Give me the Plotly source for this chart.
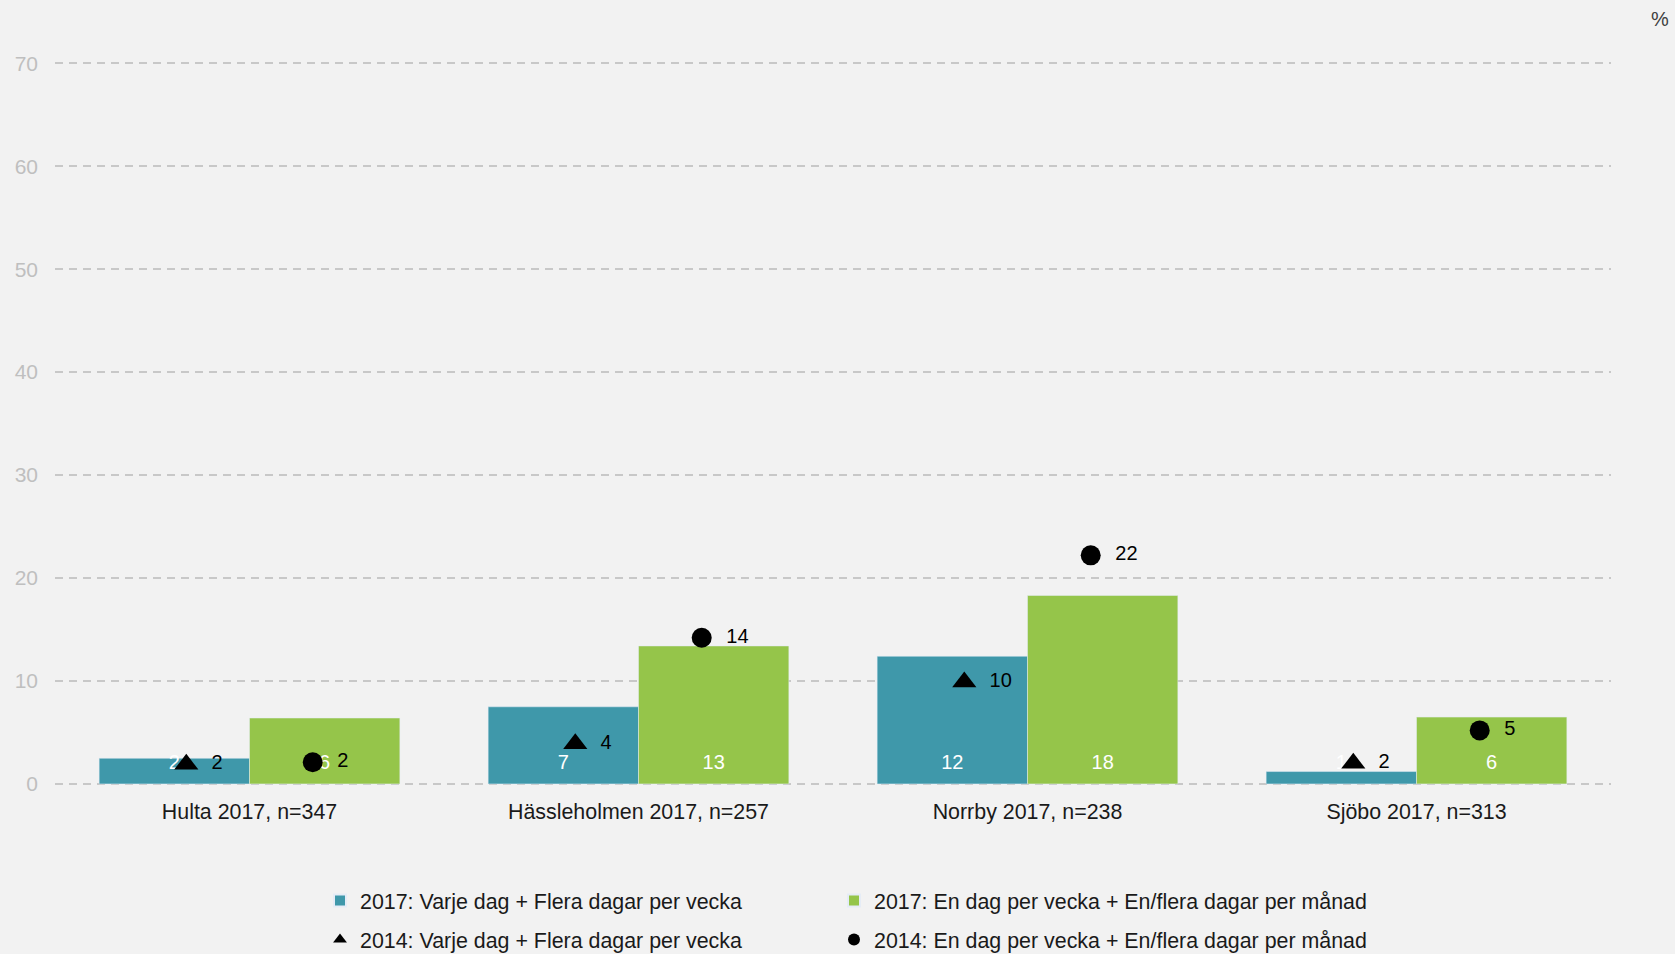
import plotly.graph_objects as go

categories = ["Hulta 2017, n=347", "Hässleholmen 2017, n=257", "Norrby 2017, n=238", "Sjöbo 2017, n=313"]
often_2017 = [2.49, 7.49, 12.4, 1.2]
seldom_2017 = [6.4, 13.4, 18.3, 6.49]
often_2014 = [1.9, 3.9, 9.9, 2.0]
seldom_2014 = [2.1, 14.2, 22.2, 5.2]

name_often_2017 = "2017: Varje dag + Flera dagar per vecka"
name_seldom_2017 = "2017: En dag per vecka + En/flera dagar per månad"
name_often_2014 = "2014: Varje dag + Flera dagar per vecka"
name_seldom_2014 = "2014: En dag per vecka + En/flera dagar per månad"

y_ticks = [0, 10, 20, 30, 40, 50, 60, 70]

TEAL = "#3F98AA"
GREEN = "#95C54A"
FONT = "Liberation Sans, Arial, sans-serif"

# bar value label: large number, followed by a tiny invisible line that lifts it off the bar base
BAR_LABEL = "<span style='font-size:20px'>%{y:.0f}</span><br>&nbsp;"
bar_text_font = dict(color="white", size=7.5, family=FONT)

fig = go.Figure()
fig.add_trace(go.Bar(
    x=categories, y=often_2017, name=name_often_2017, marker_color=TEAL,
    offsetgroup="a", texttemplate=BAR_LABEL, textposition="inside", textangle=0,
    insidetextanchor="start", constraintext="none",
    textfont=bar_text_font, legend="legend", legendwidth=469,
))
fig.add_trace(go.Bar(
    x=categories, y=seldom_2017, name=name_seldom_2017, marker_color=GREEN,
    offsetgroup="b", texttemplate=BAR_LABEL, textposition="inside", textangle=0,
    insidetextanchor="start", constraintext="none",
    textfont=bar_text_font, legend="legend", legendwidth=560,
))
fig.add_trace(go.Scatter(
    x=categories, y=often_2014, name=name_often_2014, mode="markers+text",
    marker=dict(symbol="triangle-up", size=21, color="black"),
    offsetgroup="a", texttemplate="  %{y:.0f}", textposition="middle right",
    textfont=dict(color="black", size=20, family=FONT), legend="legend2",
    legendwidth=469, cliponaxis=False,
))
fig.add_trace(go.Scatter(
    x=categories, y=seldom_2014, name=name_seldom_2014, mode="markers+text",
    marker=dict(symbol="circle", size=20, color="black"),
    offsetgroup="b", texttemplate="  %{y:.0f}", textposition="middle right",
    textfont=dict(color="black", size=20, family=FONT), legend="legend2",
    legendwidth=560, cliponaxis=False,
))

legend_common = dict(
    orientation="h", xref="container", yref="container", xanchor="left", yanchor="top",
    itemsizing="constant",
    font=dict(size=21.4, color="#1a1a1a", family=FONT), bgcolor="rgba(0,0,0,0)",
)

fig.update_layout(
    width=1675, height=954,
    paper_bgcolor="#F2F2F2", plot_bgcolor="#F2F2F2",
    margin=dict(l=55, r=64, t=53, b=167),
    barmode="group", bargap=0.227, bargroupgap=0,
    scattermode="group", scattergap=0.35,
    font=dict(family=FONT, size=20, color="#1a1a1a"),
    showlegend=True,
    legend=dict(x=320 / 1675, y=1 - 880 / 954, **legend_common),
    legend2=dict(x=320 / 1675, y=1 - 919 / 954, **legend_common),
    xaxis=dict(
        type="category", showgrid=False, zeroline=False, showline=False, ticks="",
        tickfont=dict(size=21.4, color="#1a1a1a", family=FONT), ticklabelstandoff=10,
    ),
    yaxis=dict(
        range=[-0.3, 71], tickvals=y_ticks, showgrid=True, gridcolor="#C8C8C8",
        gridwidth=2, griddash="8px,6px", zeroline=False, showline=False, ticks="",
        tickfont=dict(size=21, color="#BFBFBF", family=FONT), ticklabelstandoff=16,
    ),
    annotations=[dict(
        text="%", xref="paper", yref="paper", x=1.0, y=1.0463,
        xanchor="left", yanchor="middle", xshift=38, showarrow=False,
        font=dict(size=20, color="#404040", family=FONT),
    )],
)

fig.write_html("out.html", config={"displayModeBar": False},
               post_script="document.body.style.margin='0';")
